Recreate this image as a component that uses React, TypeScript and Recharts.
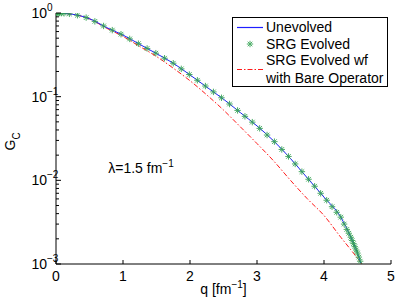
import React from "react";
import { ComposedChart, Line, XAxis, YAxis, ReferenceDot, Legend } from "recharts";

// momentum grid and form factor values
const qUnevolved = [0, 0.25, 0.5, 0.75, 1.0, 1.25, 1.5, 1.75, 2.0, 2.25, 2.5, 2.75, 3.0, 3.25, 3.5, 3.75, 4.0, 4.25, 4.4, 4.5, 4.55];
const gUnevolved = [1.0, 0.964, 0.855, 0.673, 0.545, 0.422, 0.327, 0.251, 0.182, 0.13, 0.0933, 0.0646, 0.0447, 0.0295, 0.0182, 0.0107, 0.0063, 0.00363, 0.00209, 0.00135, 0.00102];

const qBare = [0, 0.25, 0.5, 0.75, 1.0, 1.25, 1.5, 1.75, 2.0, 2.25, 2.5, 2.75, 3.0, 3.25, 3.5, 3.75, 4.0, 4.25, 4.4, 4.5, 4.56];
const gBare = [1.0, 0.964, 0.851, 0.661, 0.525, 0.398, 0.302, 0.219, 0.155, 0.105, 0.0692, 0.0437, 0.0275, 0.017, 0.01, 0.00603, 0.0038, 0.00209, 0.00148, 0.00117, 0.001];

const qSrg = [0, 0.01, 0.03, 0.05, 0.08, 0.12, 0.2, 0.32, 0.45, 0.58, 0.71, 0.84, 0.97, 1.1, 1.23, 1.36, 1.49, 1.62, 1.75, 1.87, 1.99, 2.11, 2.23, 2.35, 2.47, 2.59, 2.71, 2.82, 2.93, 3.04, 3.15, 3.26, 3.37, 3.47, 3.57, 3.67, 3.77, 3.86, 3.95, 4.04, 4.12, 4.19, 4.25, 4.3, 4.34, 4.37, 4.4, 4.42, 4.44, 4.46, 4.48, 4.5, 4.52, 4.54];
const gSrg = [1.0, 1.0, 0.999, 0.998, 0.996, 0.991, 0.977, 0.94, 0.881, 0.794, 0.7, 0.624, 0.558, 0.49, 0.43, 0.377, 0.331, 0.288, 0.251, 0.215, 0.184, 0.157, 0.134, 0.114, 0.097, 0.0817, 0.0685, 0.0582, 0.0496, 0.0418, 0.0348, 0.029, 0.0234, 0.0193, 0.0157, 0.0127, 0.0103, 0.0085, 0.007, 0.00578, 0.00484, 0.00415, 0.00363, 0.003, 0.00259, 0.00233, 0.00209, 0.00191, 0.00175, 0.00161, 0.00147, 0.00135, 0.00121, 0.00108];

const xTicks = [0, 1, 2, 3, 4, 5];
const yTicks = [
  0.001, 0.002, 0.003, 0.004, 0.005, 0.006, 0.007, 0.008, 0.009,
  0.01, 0.02, 0.03, 0.04, 0.05, 0.06, 0.07, 0.08, 0.09,
  0.1, 0.2, 0.3, 0.4, 0.5, 0.6, 0.7, 0.8, 0.9, 1,
];
const decadeExp: Record<string, string> = { "1": "0", "0.1": "\u22121", "0.01": "\u22122", "0.001": "\u22123" };

const unevolvedData = qUnevolved.map((q, i) => ({ q, g: gUnevolved[i] }));
const bareData = qBare.map((q, i) => ({ q, g: gBare[i] }));
const srgData = qSrg.map((q, i) => ({ q, g: gSrg[i] }));

const FONT = "Liberation Sans, Arial, Helvetica, sans-serif";
const BLUE = "#1f1fff";
const GREEN = "#2fa04e";
const RED = "#ff1a1a";

function LeftTick({ x, y, payload }: any) {
  const exp = decadeExp[String(payload.value)];
  const major = exp !== undefined;
  return (
    <g>
      <line x1={x} x2={x + (major ? 5 : 3)} y1={y} y2={y} stroke="#000" strokeWidth={1} />
      {major && (
        <text fontFamily={FONT} fill="#000">
          <tspan x={x - 9} y={y + 5} fontSize={14} textAnchor="end">10</tspan>
          <tspan x={x - 9} y={y - 2} fontSize={10} textAnchor="start">{exp}</tspan>
        </text>
      )}
    </g>
  );
}

function RightTick({ x, y, payload }: any) {
  const major = decadeExp[String(payload.value)] !== undefined;
  return <line x1={x} x2={x - (major ? 5 : 3)} y1={y} y2={y} stroke="#000" strokeWidth={1} />;
}

function BottomTick({ x, y, payload }: any) {
  return (
    <g>
      <line x1={x} x2={x} y1={y} y2={y - 4} stroke="#000" strokeWidth={1} />
      <text x={x} y={y + 17} textAnchor="middle" fontSize={14} fontFamily={FONT} fill="#000">{payload.value}</text>
    </g>
  );
}

function TopTick({ x, y }: any) {
  return <line x1={x} x2={x} y1={y} y2={y + 4} stroke="#000" strokeWidth={1} />;
}

function Star({ cx, cy, size = 3.2, color = GREEN }: any) {
  if (cx == null || cy == null) return null;
  const d = size * 0.72;
  return (
    <g stroke={color} strokeWidth={1} opacity={0.85}>
      <line x1={cx - size} x2={cx + size} y1={cy} y2={cy} />
      <line x1={cx} x2={cx} y1={cy - size} y2={cy + size} />
      <line x1={cx - d} x2={cx + d} y1={cy - d} y2={cy + d} />
      <line x1={cx - d} x2={cx + d} y1={cy + d} y2={cy - d} />
    </g>
  );
}

function LegendBox() {
  return (
    <svg width={156} height={70} style={{ display: "block" }}>
      <rect x={0.5} y={0.5} width={155} height={69} fill="#fff" stroke="#000" strokeWidth={1} />
      <line x1={5} x2={31} y1={10.5} y2={10.5} stroke={BLUE} strokeWidth={1.2} />
      <text x={34} y={15} fontSize={14} fontFamily={FONT} fill="#000">Unevolved</text>
      <Star cx={18} cy={27} />
      <text x={34} y={32} fontSize={14} fontFamily={FONT} fill="#000">SRG Evolved</text>
      <line x1={5} x2={31} y1={52.5} y2={52.5} stroke={RED} strokeWidth={1} strokeDasharray="5 2 1.5 2" />
      <text x={34} y={48} fontSize={14} fontFamily={FONT} fill="#000">SRG Evolved wf</text>
      <text x={34} y={66} fontSize={14} fontFamily={FONT} fill="#000">with Bare Operator</text>
    </svg>
  );
}

export default function App() {
  return (
    <div style={{ position: "absolute", left: 0, top: 0, width: 399, height: 299, background: "#fff" }}>
      <ComposedChart width={399} height={299} margin={{ top: 13, right: 8, bottom: 5, left: 0 }}>
        <XAxis
          xAxisId="b"
          dataKey="q"
          type="number"
          domain={[0, 5]}
          ticks={xTicks}
          allowDataOverflow
          height={30}
          tickSize={0}
          tickMargin={0}
          tickLine={false}
          axisLine={{ stroke: "#000" }}
          tick={<BottomTick />}
          label={{
            content: ({ viewBox }: any) => (
              <text x={viewBox.x + viewBox.width / 2} y={viewBox.y + 30} textAnchor="middle" fontSize={14} fontFamily={FONT} fill="#000">
                q [fm<tspan dy={-6} fontSize={10}>{"\u22121"}</tspan><tspan dy={6}>]</tspan>
              </text>
            ),
          }}
        />
        <XAxis
          xAxisId="t"
          dataKey="q"
          type="number"
          orientation="top"
          domain={[0, 5]}
          ticks={xTicks}
          allowDataOverflow
          height={0}
          tickSize={0}
          tickMargin={0}
          tickLine={false}
          axisLine={{ stroke: "#000" }}
          tick={<TopTick />}
        />
        <YAxis
          yAxisId="l"
          type="number"
          scale="log"
          domain={[0.001, 1]}
          ticks={yTicks}
          allowDataOverflow
          width={56}
          tickSize={0}
          tickMargin={0}
          tickLine={false}
          interval={0}
          axisLine={{ stroke: "#000" }}
          tick={<LeftTick />}
          label={{
            content: ({ viewBox }: any) => {
              const cy = viewBox.y + viewBox.height / 2;
              return (
                <text transform={`translate(15, ${cy + 12}) rotate(-90)`} fontSize={14} fontFamily={FONT} fill="#000">
                  G<tspan dy={5} fontSize={10}>C</tspan>
                </text>
              );
            },
          }}
        />
        <YAxis
          yAxisId="r"
          type="number"
          scale="log"
          orientation="right"
          domain={[0.001, 1]}
          ticks={yTicks}
          allowDataOverflow
          width={0}
          tickSize={0}
          tickMargin={0}
          tickLine={false}
          interval={0}
          axisLine={{ stroke: "#000" }}
          tick={<RightTick />}
        />
        <Line
          xAxisId="t"
          yAxisId="r"
          data={unevolvedData}
          dataKey="g"
          stroke="none"
          dot={false}
          activeDot={false}
          legendType="none"
          isAnimationActive={false}
        />
        <Line
          xAxisId="b"
          yAxisId="l"
          data={bareData}
          dataKey="g"
          type="monotone"
          stroke={RED}
          strokeWidth={1}
          strokeDasharray="5 2 1.5 2"
          dot={false}
          activeDot={false}
          isAnimationActive={false}
        />
        <Line
          xAxisId="b"
          yAxisId="l"
          data={srgData}
          dataKey="g"
          stroke="none"
          dot={(p: any) => <Star key={`s${p.index}`} cx={p.cx} cy={p.cy} />}
          activeDot={false}
          isAnimationActive={false}
        />
        <Line
          xAxisId="b"
          yAxisId="l"
          data={unevolvedData}
          dataKey="g"
          type="monotone"
          stroke={BLUE}
          strokeWidth={1}
          dot={false}
          activeDot={false}
          isAnimationActive={false}
        />
        <ReferenceDot
          xAxisId="b"
          yAxisId="l"
          x={0.78}
          y={0.0123}
          r={0}
          ifOverflow="visible"
          shape={(p: any) => (
            <text x={p.cx} y={p.cy} fontSize={14} fontFamily={FONT} fill="#000">
              {"\u03bb=1.5 fm"}<tspan dy={-6} fontSize={10}>{"\u22121"}</tspan>
            </text>
          )}
        />
        <Legend
          layout="vertical"
          align="center"
          verticalAlign="middle"
          wrapperStyle={{ position: "absolute", left: 232, top: 17, width: 156, height: 70 }}
          content={() => <LegendBox />}
        />
      </ComposedChart>
    </div>
  );
}
